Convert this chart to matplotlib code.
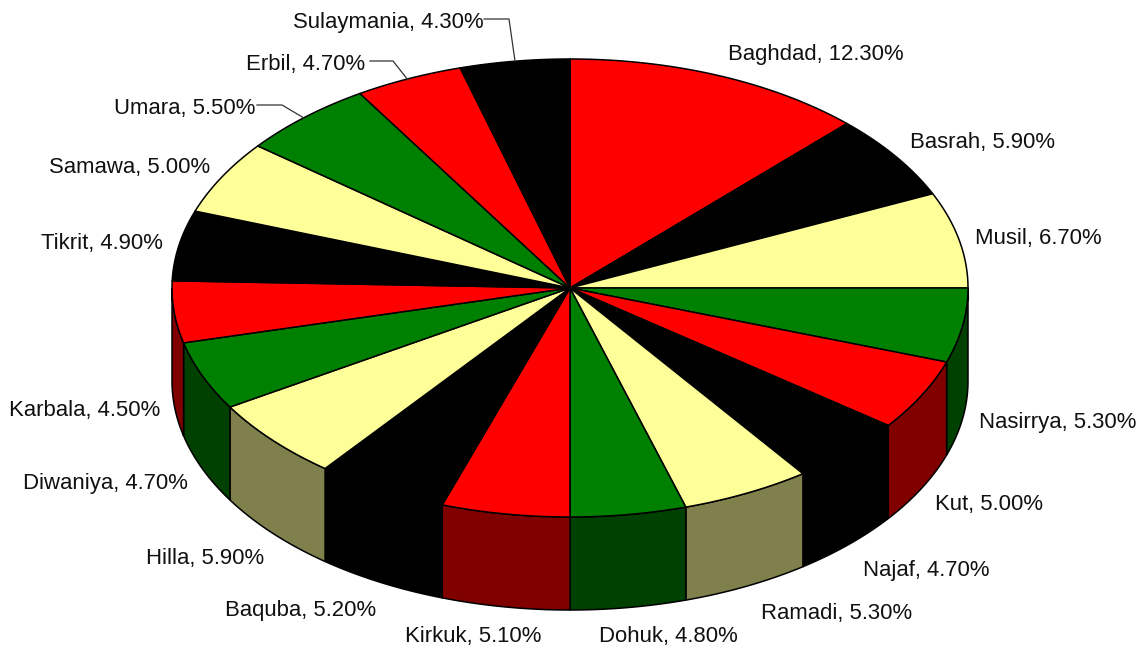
import matplotlib
matplotlib.use('Agg')
import matplotlib.pyplot as plt
import numpy as np
from matplotlib.patches import Polygon

names = ['Baghdad', 'Basrah', 'Musil', 'Nasirrya', 'Kut', 'Najaf', 'Ramadi', 'Dohuk', 'Kirkuk',
         'Baquba', 'Hilla', 'Diwaniya', 'Karbala', 'Tikrit', 'Samawa', 'Umara', 'Erbil', 'Sulaymania']
# what the labels say
shares = [12.3, 5.9, 6.7, 5.3, 5.0, 4.7, 5.3, 4.8, 5.1, 5.2, 5.9, 4.7, 4.5, 4.9, 5.0, 5.5, 4.7, 4.3]
# slice sizes as read off the rim, the labels are rounded and do not add up to 100
slice_sizes = [12.25, 6.0, 6.75, 5.24, 5.01, 4.8, 5.25, 4.7, 5.2, 5.35, 5.75, 4.85, 4.35, 4.95, 5.2, 5.5,
               4.4, 4.45]

top_colors = ['#ff0000', '#000000', '#ffff99', '#008000']
side_colors = ['#800000', '#000000', '#80804d', '#004000']

# left edge and baseline of each label, in pixels
label_xy = [(728, 60), (910, 148), (975, 244), (979, 428), (935, 510), (863, 576), (761, 619),
            (599, 642), (405, 642), (225, 616), (146, 564), (23, 489), (9, 416), (41, 249),
            (49, 173), (114, 114), (246, 70), (293, 28)]
leaders = {'Sulaymania': [(484, 19), (509, 19), (515, 61)],
           'Erbil': [(370, 61), (393, 61), (408, 80)],
           'Umara': [(257, 105), (282, 105), (304, 118)]}

cx, cy = 570, 288
rx, ry = 398, 229
depth = 93


def rim(a0, a1):
    t = np.linspace(a0, a1, 60)
    return np.column_stack([cx + rx * np.sin(t), cy - ry * np.cos(t)])


plt.rcParams['font.family'] = ['Liberation Sans', 'DejaVu Sans']
fig = plt.figure(figsize=(11.4, 6.48), dpi=100)
ax = fig.add_axes([0, 0, 1, 1])
ax.set_xlim(0, 1140)
ax.set_ylim(648, 0)
ax.axis('off')

edges = np.cumsum([0] + slice_sizes) / sum(slice_sizes) * 2 * np.pi

# side wall first, only the front half of the rim shows
for i in range(len(slice_sizes)):
    a0 = max(edges[i], np.pi / 2)
    a1 = min(edges[i + 1], 3 * np.pi / 2)
    if a1 <= a0:
        continue
    top = rim(a0, a1)
    low = top[::-1] + [0, depth]
    ax.add_patch(Polygon(np.vstack([top, low]), closed=True, facecolor=side_colors[i % 4],
                         edgecolor='black', linewidth=1.1))

for i in range(len(slice_sizes)):
    pts = np.vstack([[cx, cy], rim(edges[i], edges[i + 1])])
    ax.add_patch(Polygon(pts, closed=True, facecolor=top_colors[i % 4],
                         edgecolor='black', linewidth=1.1))

for name, val, (x, y) in zip(names, shares, label_xy):
    ax.text(x, y, '%s, %.2f%%' % (name, val), fontsize=15.9, color='#111111', ha='left', va='baseline')

for pts in leaders.values():
    xs, ys = zip(*pts)
    ax.plot(xs, ys, color='#333333', linewidth=0.9)

fig.savefig('out.png', dpi=100)
